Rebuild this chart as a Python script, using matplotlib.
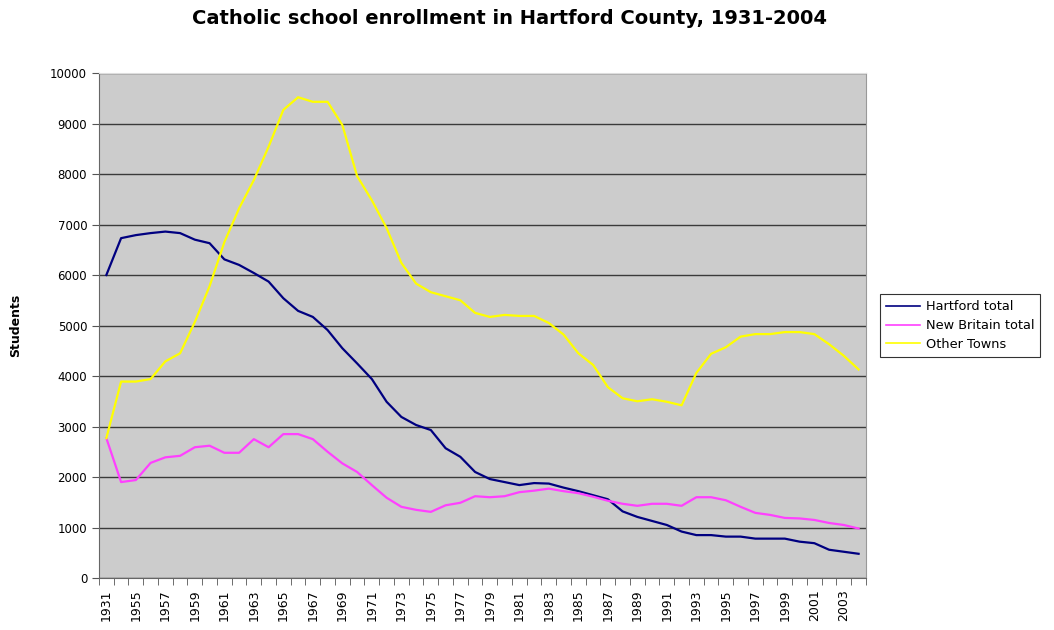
import numpy as np
import matplotlib.pyplot as plt

plt.rcParams['font.family'] = ['DejaVu Sans']

years = ['1931'] + [str(y) for y in range(1954, 2005)]

hartford = [6000, 6730, 6790, 6830, 6860, 6830, 6700, 6630, 6310, 6200,
            6040, 5870, 5540, 5290, 5170, 4910, 4550, 4250, 3940, 3490,
            3190, 3030, 2930, 2570, 2400, 2100, 1960, 1900, 1840, 1880,
            1870, 1790, 1720, 1640, 1560, 1320, 1210, 1130, 1050, 920,
            850, 850, 820, 820, 780, 780, 780, 720, 690, 560,
            520, 480]
new_britain = [2770, 1900, 1940, 2280, 2390, 2420, 2590, 2620, 2480, 2480,
               2750, 2590, 2850, 2850, 2750, 2500, 2270, 2100, 1840, 1590,
               1410, 1350, 1310, 1440, 1490, 1620, 1600, 1620, 1700, 1730,
               1770, 1720, 1680, 1610, 1530, 1470, 1430, 1470, 1470, 1430,
               1600, 1600, 1540, 1410, 1290, 1250, 1190, 1180, 1150, 1090,
               1050, 980]
other_towns = [2770, 3890, 3890, 3940, 4290, 4450, 5070, 5780, 6650, 7320,
               7880, 8540, 9270, 9520, 9430, 9430, 8970, 7960, 7480, 6930,
               6240, 5830, 5660, 5580, 5500, 5250, 5170, 5210, 5190, 5190,
               5050, 4820, 4450, 4220, 3780, 3560, 3500, 3540, 3490, 3420,
               4060, 4440, 4570, 4780, 4830, 4830, 4870, 4870, 4830, 4630,
               4400, 4130]

x = np.arange(len(years))

fig = plt.figure(figsize=(10.54, 6.3), dpi=100)
ax = fig.add_axes([0.0939, 0.0825, 0.7277, 0.8016])
ax.set_facecolor('#cccccc')

ax.plot(x, hartford, color='#000080', linewidth=1.6, label='Hartford total')
ax.plot(x, new_britain, color='#ff40ff', linewidth=1.6, label='New Britain total')
ax.plot(x, other_towns, color='#ffff00', linewidth=1.6, label='Other Towns')

ax.set_xlim(-0.5, len(years) - 0.5)
ax.set_ylim(0, 10000)
ax.set_yticks(np.arange(0, 10001, 1000))
ax.yaxis.grid(True, color='#3a3a3a', linewidth=1)
ax.set_axisbelow(True)

# category labels every other year, tick marks between categories
ax.set_xticks(x[::2])
ax.set_xticklabels(years[::2], rotation=90, fontsize=9)
ax.set_xticks(np.arange(-0.5, len(years), 1), minor=True)
ax.tick_params(axis='x', which='major', length=0, pad=8)
ax.tick_params(axis='x', which='minor', length=5, color='#555555')
ax.tick_params(axis='y', length=5, color='#555555', labelsize=8.5)

for s in ['left', 'bottom']:
    ax.spines[s].set_color('#666666')
ax.spines['right'].set_color('#999999')
ax.spines['top'].set_color('#dddddd')

ax.set_ylabel('Students', fontsize=9, fontweight='bold', labelpad=20)
fig.text(0.483, 0.971, 'Catholic school enrollment in Hartford County, 1931-2004',
         fontsize=14, fontweight='bold', ha='center', va='center')

leg = ax.legend(loc='center left', bbox_to_anchor=(1.018, 0.50), fontsize=9.3,
                frameon=True, fancybox=False, edgecolor='black',
                handlelength=2.7, handletextpad=0.4, borderpad=0.45,
                labelspacing=0.45, borderaxespad=0)
leg.get_frame().set_linewidth(0.8)
for line in leg.get_lines():
    line.set_linewidth(1.2)

plt.savefig('out.png', dpi=100)
